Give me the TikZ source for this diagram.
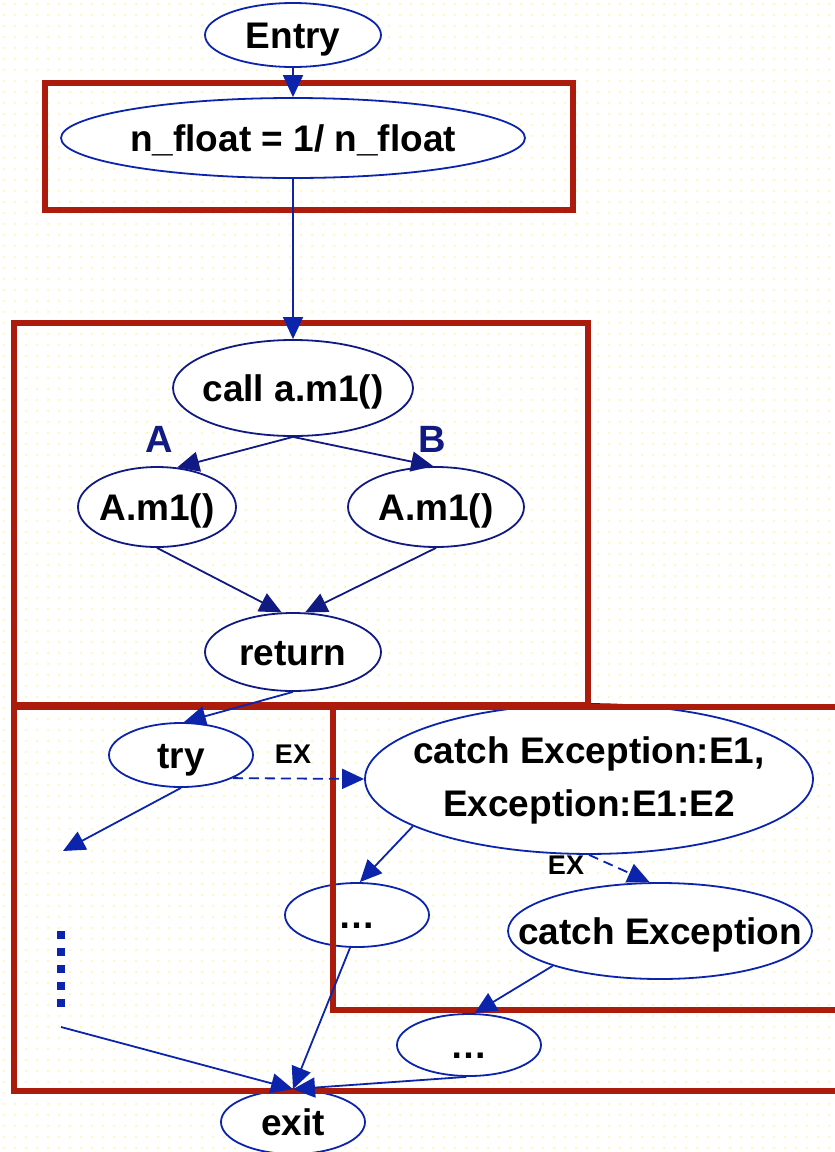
\documentclass[tikz,border=0pt]{standalone}
\usepackage{fontspec}
\setmainfont{Liberation Sans}
\usetikzlibrary{shapes.geometric,arrows.meta,patterns.meta}

\definecolor{frame}{RGB}{172,28,12}
\definecolor{royal}{RGB}{12,36,172}
\definecolor{navy}{RGB}{16,26,130}
\definecolor{dotyel}{RGB}{255,248,196}

% faint dotted paper texture
\pgfdeclarepattern{
  name=paperdots,
  type=uncolored,
  bottom left={\pgfpoint{0pt}{0pt}},
  top right={\pgfpoint{11pt}{11pt}},
  tile size={\pgfpoint{11pt}{11pt}},
  code={\pgfpathcircle{\pgfpoint{5.5pt}{5.5pt}}{1.6pt}\pgfusepath{fill}}
}

% zero-width box so the ellipse keeps its given size
\newcommand{\inside}[1]{\makebox[0pt][c]{#1}}

\begin{document}
\begin{tikzpicture}[x=1pt,y=-1pt,
  shapebase/.style={ellipse, draw=royal, line width=1.8pt, fill=white, inner sep=0pt,
    font=\fontsize{37}{53}\selectfont\bfseries},
  state/.style={shapebase, text height=26pt, text depth=0pt},
  flow/.style={draw=royal, line width=1.8pt, -{Triangle[length=22pt,width=20pt]}},
  exflow/.style={flow, dash pattern=on 10pt off 6pt},
  region/.style={draw=frame, line width=6pt},
  edgelabel/.style={inner sep=0pt, text height=20pt, text depth=0pt,
    font=\fontsize{27}{30}\selectfont\bfseries},
  branch/.style={inner sep=0pt, text height=27pt, text depth=0pt, text=navy,
    font=\fontsize{38}{40}\selectfont\bfseries},
  gapdots/.style={draw=royal, line width=8pt, dash pattern=on 8pt off 9pt}]

\clip (0,0) rectangle (835,1152);
\fill[white] (0,0) rectangle (835,1152);
\fill[pattern=paperdots, pattern color=dotyel] (0,0) rectangle (835,1152);

% statements
\node[state, minimum width=176pt, minimum height=64pt] (entry) at (293,35) {\inside{Entry}};
\node[state, minimum width=464pt, minimum height=80pt] (assign) at (293,138) {\inside{n\_float = 1/ n\_float}};

% virtual call with two targets
\node[state, draw=navy, minimum width=240pt, minimum height=96pt] (call) at (293,388) {\inside{call a.m1()}};
\node[state, draw=navy, minimum width=158pt, minimum height=80pt] (ma) at (157,507) {\inside{A.m1()}};
\node[state, draw=navy, minimum width=176pt, minimum height=80pt] (mb) at (436,507) {\inside{A.m1()}};
\node[state, draw=navy, minimum width=176pt, minimum height=78pt] (ret) at (293,652) {\inside{return}};
\node[branch] (la) at (159,439) {A};
\node[branch] (lb) at (432,439) {B};

% try / catch
\node[state, minimum width=144pt, minimum height=64pt] (try) at (181,755) {\inside{try}};
\node[shapebase, minimum width=448pt, minimum height=112pt] (catch1) at (589,779)
  {\inside{\begin{tabular}{@{}c@{}}catch Exception:E1,\\Exception:E1:E2\end{tabular}}};
\node[state, minimum width=144pt, minimum height=64pt] (dots1) at (357,915) {\inside{…}};
\node[state, minimum width=304pt, minimum height=96pt] (catch2) at (660,931) {\inside{catch Exception}};
\node[state, minimum width=144pt, minimum height=62pt] (dots2) at (469,1045) {\inside{…}};
\node[state, minimum width=144pt, minimum height=64pt] (exit) at (293,1122) {\inside{exit}};

\node[edgelabel] (ex1) at (293,753) {EX};
\node[edgelabel] (ex2) at (566,864) {EX};

\coordinate (tryout) at (63,851);
\coordinate (gapout) at (61,1027);

% regions
\draw[region] (45,83) rectangle (573,210);
\draw[region] (14,323) rectangle (588,705);
\draw[region] (14,707) rectangle (860,1091);
\draw[region] (333,707) rectangle (860,1010);

% control flow
\draw[flow] (entry) -- (assign);
\draw[flow] (assign) -- (call);
\draw[flow, draw=navy] (call.south) -- (ma.63);
\draw[flow, draw=navy] (call.south) -- (mb.94);
\draw[flow, draw=navy] (ma.south) -- (ret.106);
\draw[flow, draw=navy] (mb.south) -- (ret.73);
\draw[flow] (ret.south) -- (try.85);
\draw[exflow] (try.-24) -- (catch1.west);
\draw[flow] (try.south) -- (tryout);
\draw[gapdots] (61,931) -- (61,1008);
\draw[flow] (gapout) -- (exit.north);
\draw[flow] (catch1.195) -- (dots1.85);
\draw[exflow] (catch1.south) -- (catch2.102);
\draw[flow] (catch2.198) -- (dots2.80);
\draw[flow] (dots1.-102) -- (exit.north);
\draw[flow] (dots2.-95) -- (exit.north);
\end{tikzpicture}
\end{document}
